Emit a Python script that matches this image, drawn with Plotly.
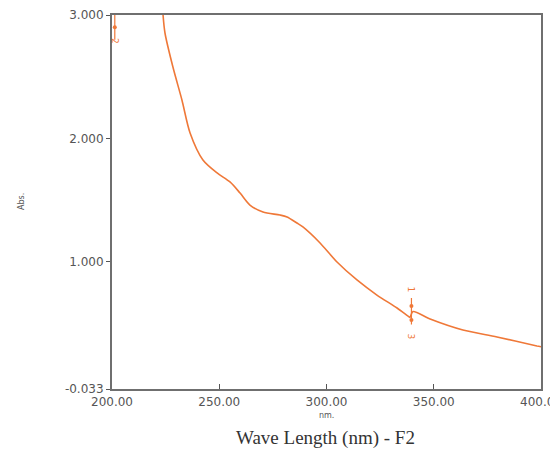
import plotly.graph_objects as go

# Spectrum (wavelength nm, absorbance)
wavelength = [223.8, 224.7, 228.4, 232.6, 236.4, 242.4, 249.0, 255.0, 259.7, 264.3,
              270.4, 278.3, 281.6, 286.2, 289.0, 297.0, 304.9, 314.2, 323.5, 332.9,
              338.5, 338.9, 340.3, 348.3, 363.6, 379.5, 398.1, 400.0]
absorbance = [3.0, 2.854, 2.578, 2.311, 2.043, 1.824, 1.719, 1.646, 1.556, 1.459,
              1.402, 1.378, 1.362, 1.313, 1.281, 1.151, 0.997, 0.851, 0.729, 0.624,
              0.552, 0.548, 0.595, 0.534, 0.445, 0.389, 0.316, 0.310]

# Peak-pick markers: (wavelength, line top, line bottom, dots, labels)
mark_nm = [201.3, 339.6]
mark_top = [3.0, 0.705]
mark_bot = [2.80, 0.49]
mark_dots = [[2.90], [0.64, 0.526]]
mark_labels = [["2"], ["1", "3"]]
mark_label_y = [[2.79], [0.77, 0.39]]

x_ticks = [200, 250, 300, 350, 400]
x_ticktext = ["200.00", "250.00", "300.00", "350.00", "400.00"]
y_ticks = [-0.033, 1.0, 2.0, 3.0]
y_ticktext = ["-0.033", "1.000", "2.000", "3.000"]

orange = "#EF7838"
tick_font = dict(family="DejaVu Sans", size=12, color="#555")

fig = go.Figure()
fig.add_trace(go.Scatter(x=wavelength, y=absorbance, mode="lines",
                         line=dict(color=orange, width=1.6, shape="spline", smoothing=0.8),
                         showlegend=False, hoverinfo="skip"))

for i, nm in enumerate(mark_nm):
    fig.add_trace(go.Scatter(x=[nm, nm], y=[mark_top[i], mark_bot[i]], mode="lines",
                             line=dict(color=orange, width=1.2), showlegend=False))
    fig.add_trace(go.Scatter(x=[nm] * len(mark_dots[i]), y=mark_dots[i], mode="markers",
                             marker=dict(color=orange, size=4), showlegend=False))
    for lab, ly in zip(mark_labels[i], mark_label_y[i]):
        fig.add_annotation(x=nm, y=ly, text=lab, showarrow=False, textangle=90,
                           font=dict(family="DejaVu Sans", size=9, color=orange))

fig.add_annotation(x=0.5, xref="paper", y=-0.072, yref="paper", yanchor="middle", text="nm.",
                   showarrow=False, font=dict(family="DejaVu Sans", size=8, color="#555"))
fig.add_annotation(x=-0.212, xref="paper", y=0.5, yref="paper", xanchor="center",
                   text="Abs.", showarrow=False, textangle=-90,
                   font=dict(family="DejaVu Sans", size=8, color="#555"))
fig.add_annotation(x=0.497, xref="paper", y=-0.131, yref="paper", yanchor="middle",
                   text="Wave Length (nm) - F2", showarrow=False,
                   font=dict(family="Liberation Serif, Times New Roman", size=19, color="#333"))

fig.update_xaxes(range=[200, 400], tickvals=x_ticks, ticktext=x_ticktext,
                 showgrid=False, zeroline=False, showline=True, linecolor="#6f6f6f",
                 linewidth=2, mirror=True, ticks="inside", ticklen=5, tickcolor="#555",
                 automargin=False, ticklabeloverflow="allow", ticklabelstandoff=1,
                 tickfont=tick_font)
fig.update_yaxes(range=[-0.033, 3.0], tickvals=y_ticks, ticktext=y_ticktext,
                 showgrid=False, zeroline=False, showline=True, linecolor="#6f6f6f",
                 linewidth=2, mirror=True, ticks="outside", ticklen=4, tickcolor="#555",
                 automargin=False, tickfont=tick_font)

fig.update_layout(width=550, height=453, margin=dict(l=112, r=9, t=15, b=64),
                  plot_bgcolor="white", paper_bgcolor="white")

fig.write_html("out.html")
